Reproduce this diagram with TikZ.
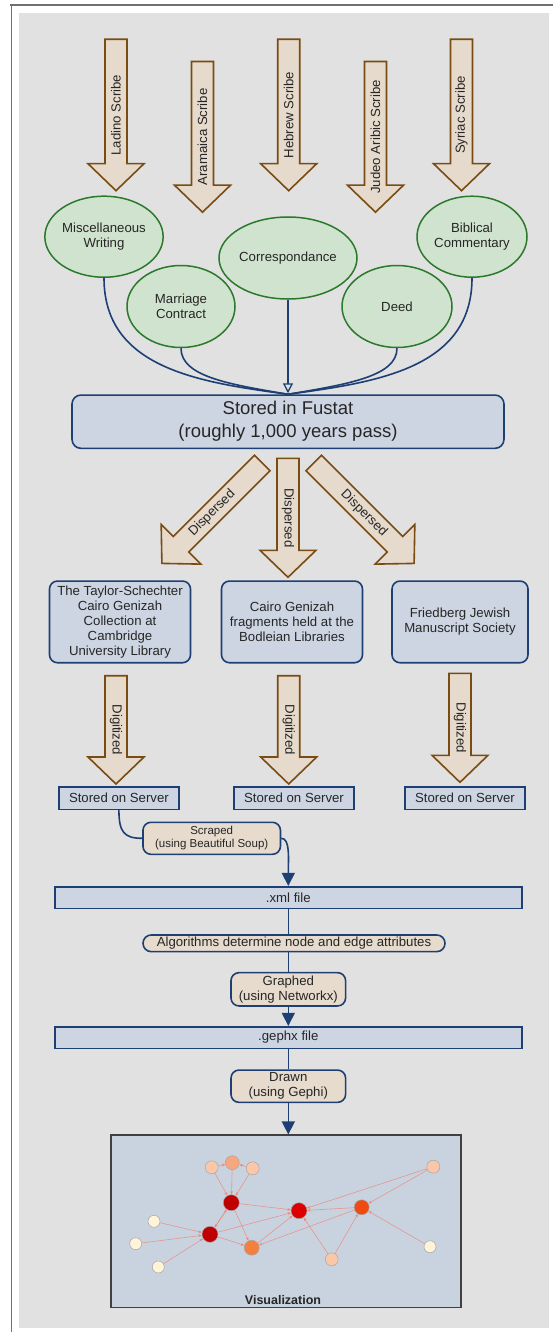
\documentclass[tikz,border=0pt]{standalone}
\usepackage{fontspec}
\setmainfont{Liberation Sans}
\usetikzlibrary{shapes.geometric,arrows.meta}

\definecolor{paper}{HTML}{E1E1E1}
\definecolor{framegray}{HTML}{707070}
\definecolor{inkcol}{HTML}{262626}
\definecolor{arrowfill}{HTML}{E5DACC}
\definecolor{arrowdraw}{HTML}{7A4B12}
\definecolor{docfill}{HTML}{D0E3CE}
\definecolor{docdraw}{HTML}{2B7A2B}
\definecolor{boxfill}{HTML}{CDD5E2}
\definecolor{boxdraw}{HTML}{1E3F74}
\definecolor{stepfill}{HTML}{E6DBCD}
\definecolor{visfill}{HTML}{C9D3E0}
\definecolor{visdraw}{HTML}{404040}
\definecolor{edgecol}{HTML}{EE8270}
\definecolor{gdred}{HTML}{C00000}
\definecolor{gred}{HTML}{DD0000}
\definecolor{gorred}{HTML}{F04A10}
\definecolor{gorange}{HTML}{F5803E}
\definecolor{gpeach}{HTML}{F7A77E}
\definecolor{glpeach}{HTML}{FAC8A8}
\definecolor{gcream}{HTML}{FFF3D8}

\newcommand{\bigarrow}[6]{%
  \begin{scope}[shift={#2},rotate=#3]
    \draw[blockarrow] (0,-11) -- ({#4-27},-11) -- ({#4-27},-28) -- (#4,0)
      -- ({#4-27},28) -- ({#4-27},11) -- (0,11) -- cycle;
    \node[arrowlabel,rotate=#5] (#1) at ({#4/2},0) {#6};
  \end{scope}}

\tikzset{
  every node/.style={text=inkcol, font=\fontsize{13.2}{15}\selectfont},
  blockarrow/.style={draw=arrowdraw, fill=arrowfill, line width=1.6pt, line join=miter},
  arrowlabel/.style={inner sep=0pt},
  docnode/.style={ellipse, draw=docdraw, fill=docfill, line width=1.5pt,
    minimum width=109pt, minimum height=81pt, inner sep=0pt, align=center},
  holdbox/.style={rectangle, rounded corners=8pt, draw=boxdraw, fill=boxfill,
    line width=1.6pt, minimum height=81.7pt, inner sep=0pt, align=center},
  serverbox/.style={rectangle, draw=boxdraw, fill=boxfill, line width=1.6pt,
    minimum width=120pt, minimum height=22.6pt, inner sep=0pt},
  filebox/.style={rectangle, draw=boxdraw, fill=boxfill, line width=1.6pt,
    minimum width=467pt, minimum height=21.6pt, inner sep=0pt},
  stepbox/.style={rectangle, rounded corners=8pt, draw=boxdraw, fill=stepfill,
    line width=1.6pt, inner sep=0pt, align=center},
  flow/.style={draw=boxdraw, line width=1.6pt},
  tip/.style={-{Triangle[length=13pt,width=13pt]}},
  vnode/.style={circle, draw=gray!70, line width=0.5pt, inner sep=0pt},
  gedge/.style={draw=edgecol, draw opacity=0.75, line width=0.6pt,
    -{Stealth[length=3.5pt,width=3pt]}}
}

\begin{document}
\begin{tikzpicture}[x=1pt,y=1pt]
\useasboundingbox (0,0) rectangle (553,-1332);
\fill[white] (0,0) rectangle (553,-1332);
\fill[paper] (19.4,-12.7) rectangle (549,-1328.3);
\draw[framegray, line width=1.5pt] (10,-5) -- (553,-5);
\draw[framegray, line width=1.5pt] (11.3,-5) -- (11.3,-1332);

\bigarrow{ladino}{(116,-39.3)}{-90}{151.4}{90}{Ladino Scribe}
\bigarrow{aramaica}{(202.5,-61.5)}{-90}{150.7}{90}{Aramaica Scribe}
\bigarrow{hebrew}{(288.7,-39.3)}{-90}{151.4}{90}{Hebrew Scribe}
\bigarrow{judeo}{(375.5,-61.5)}{-90}{150.7}{90}{Judeo Aribic Scribe}
\bigarrow{syriac}{(461.5,-39.3)}{-90}{151.4}{90}{Syriac Scribe}

\node[docnode] (misc) at (104,-236.7) {Miscellaneous\\Writing};
\node[docnode, minimum width=108pt, minimum height=82pt] (marriage) at (181,-306.5) {Marriage\\Contract};
\node[docnode, minimum width=129pt, minimum height=82pt] (corresp) at (288,-258) {Correspondance};
\node[docnode, minimum width=110pt, minimum height=82pt] (deed) at (397,-306.5) {Deed};
\node[docnode, minimum width=110pt] (biblical) at (472,-236.7) {Biblical\\Commentary};

\node[rectangle, rounded corners=9pt, draw=boxdraw, fill=boxfill, line width=1.6pt,
  minimum width=432pt, minimum height=53.3pt, inner sep=0pt, align=center,
  font=\fontsize{18.5}{23}\selectfont] (fustat) at (288,-421.7)
  {Stored in Fustat\\(roughly 1,000 years pass)};

\draw[flow] (misc.south) .. controls +(0,-90) and +(-90,12) .. (fustat.north);
\draw[flow] (marriage.south) .. controls +(0,-28) and +(-60,10) .. (fustat.north);
\draw[flow] (deed.south) .. controls +(0,-28) and +(60,10) .. (fustat.north);
\draw[flow] (biblical.south) .. controls +(0,-90) and +(90,12) .. (fustat.north);
\draw[flow, line width=1.8pt, -{Triangle[open, length=10pt, width=10pt, fill=paper, line width=1.3pt]}]
  (corresp.south) -- ([yshift=1pt]fustat.north);

\bigarrow{dispL}{(262.3,-463)}{225}{142}{45}{Dispersed}
\bigarrow{dispC}{(288,-458.3)}{-90}{119}{-90}{Dispersed}
\bigarrow{dispR}{(313.7,-463)}{-45}{142}{-45}{Dispersed}

\node[holdbox, minimum width=141pt] (taylor) at (120,-621.9)
  {The Taylor-Schechter\\Cairo Genizah\\Collection at\\Cambridge\\University Library};
\node[holdbox, minimum width=141pt] (bodleian) at (292,-621.9)
  {Cairo Genizah\\fragments held at the\\Bodleian Libraries};
\node[holdbox, minimum width=136pt] (friedberg) at (460,-621.9)
  {Friedberg Jewish\\Manuscript Society};

\bigarrow{digL}{(116,-675.7)}{-90}{108.3}{-90}{Digitized}
\bigarrow{digC}{(288.7,-675.7)}{-90}{108.3}{-90}{Digitized}
\bigarrow{digR}{(460,-673.3)}{-90}{109}{-90}{Digitized}

\node[serverbox] (srv1) at (118.9,-798) {Stored on Server};
\node[serverbox] (srv2) at (294,-798) {Stored on Server};
\node[serverbox] (srv3) at (465,-798) {Stored on Server};

\node[stepbox, minimum width=137.5pt, minimum height=32pt,
  font=\fontsize{11.5}{13}\selectfont] (scraped) at (211.7,-838.3)
  {Scraped\\(using Beautiful Soup)};
\node[filebox] (xml) at (288.3,-897.5) {.xml file};
\node[stepbox, rounded corners=8.3pt, minimum width=302pt, minimum height=16.7pt] (algo)
  at (294,-943.3) {Algorithms determine node and edge attributes};
\node[stepbox, minimum width=114.6pt, minimum height=33.3pt] (graphed) at (288.3,-989.3)
  {Graphed\\(using Networkx)};
\node[filebox] (gephx) at (288.3,-1037.5) {.gephx file};
\node[stepbox, minimum width=114.6pt, minimum height=32.3pt] (drawn) at (288.3,-1086.2)
  {Drawn\\(using Gephi)};

\draw[flow] (srv1.south) .. controls +(0,-22) and +(-18,0) .. (scraped.west);
\draw[flow, tip] (scraped.east) .. controls +(9,0) and +(0,28) .. (xml.north);
\draw[flow] (xml) -- (xml |- algo.north);
\draw[flow] (xml |- algo.south) -- (graphed);
\draw[flow, tip] (graphed) -- (gephx);
\draw[flow] (gephx) -- (drawn);

\node[rectangle, draw=visdraw, fill=visfill, line width=1.2pt, minimum width=350pt,
  minimum height=172.7pt, inner sep=0pt] (vis) at (286,-1221.4) {};
\node[font=\bfseries\fontsize{12.5}{14}\selectfont] (vislabel) at (283,-1300) {Visualization};
\draw[flow, tip] (drawn.south) -- (drawn.south |- vis.north);

\node[vnode, fill=glpeach, minimum size=13pt] (g1) at (211.7,-1167.3) {};
\node[vnode, fill=gpeach, minimum size=14pt] (g2) at (232.3,-1162.7) {};
\node[vnode, fill=glpeach, minimum size=13pt] (g3) at (252.7,-1168.3) {};
\node[vnode, fill=gdred, minimum size=16pt] (g4) at (231.3,-1202.7) {};
\node[vnode, fill=gred, minimum size=16pt] (g5) at (299,-1210.7) {};
\node[vnode, fill=gorred, minimum size=15pt] (g6) at (361.7,-1207.3) {};
\node[vnode, fill=glpeach, minimum size=13pt] (g7) at (433.3,-1166.7) {};
\node[vnode, fill=gdred, minimum size=16pt] (g8) at (210,-1234.3) {};
\node[vnode, fill=gorange, minimum size=15pt] (g9) at (251.7,-1247.7) {};
\node[vnode, fill=gcream, minimum size=12pt] (g10) at (154,-1221.3) {};
\node[vnode, fill=gcream, minimum size=12pt] (g11) at (135.7,-1243.7) {};
\node[vnode, fill=gcream, minimum size=12pt] (g12) at (158.3,-1267) {};
\node[vnode, fill=glpeach, minimum size=13pt] (g13) at (331.7,-1259.3) {};
\node[vnode, fill=gcream, minimum size=12pt] (g14) at (430,-1246.7) {};

\foreach \a/\b in {g1/g4, g2/g4, g3/g4, g1/g2, g3/g2, g4/g5, g4/g8, g8/g4, g4/g9,
  g8/g5, g8/g9, g10/g8, g11/g8, g12/g8, g9/g5, g6/g9, g6/g5, g7/g5, g7/g6,
  g13/g5, g13/g6, g14/g6}
  \draw[gedge] (\a) -- (\b);
\end{tikzpicture}
\end{document}
